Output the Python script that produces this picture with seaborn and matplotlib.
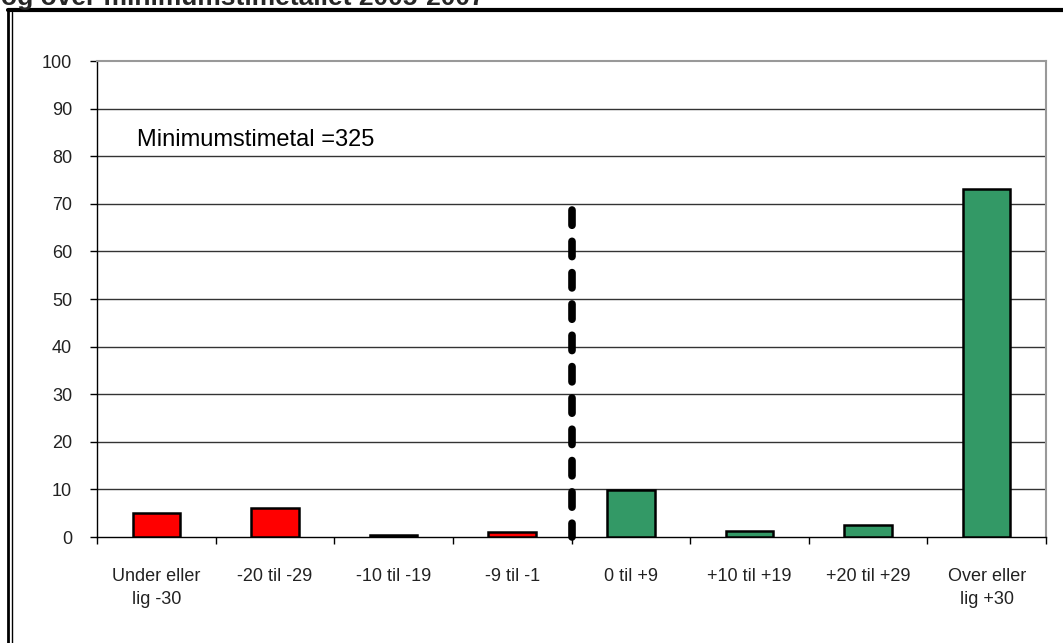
import numpy as np
import pandas as pd
import matplotlib.pyplot as plt
import seaborn as sns
from matplotlib.lines import Line2D

sns.set_theme(style="white")
plt.rcParams['font.family'] = ['Liberation Sans', 'DejaVu Sans']

# =========================
# Data
# =========================
categories = ['Under eller\nlig -30', '-20 til -29', '-10 til -19', '-9 til -1',
              '0 til +9', '+10 til +19', '+20 til +29', 'Over eller\nlig +30']
values = [5.1, 6.1, 0.5, 1.0, 9.8, 1.3, 2.6, 73.2]
groups = ['under', 'under', 'under', 'under', 'over', 'over', 'over', 'over']
palette = {'under': '#ff0000', 'over': '#339966'}
yticks = list(range(0, 101, 10))

df = pd.DataFrame({'kategori': categories, 'andel': values, 'gruppe': groups})

fig = plt.figure(figsize=(10.63, 6.43), dpi=100)
ax = fig.add_axes([97 / 1063, 106 / 643, (1046 - 97) / 1063, (537 - 61) / 643])

sns.barplot(data=df, x='kategori', y='andel', hue='gruppe', palette=palette,
            dodge=False, width=0.4, saturation=1, edgecolor='black',
            linewidth=1.8, legend=False, ax=ax, zorder=3)

ax.set_ylim(0, 100)
ax.set_xlim(-0.5, len(categories) - 0.5)
ax.set_yticks(yticks)
ax.set_xlabel('')
ax.set_ylabel('')

# gridlines
for y in yticks[1:-1]:
    ax.axhline(y, color='#333333', lw=1.0, zorder=1)

# spines
for side in ['top', 'right']:
    ax.spines[side].set_color('#999999')
    ax.spines[side].set_linewidth(1.5)
for side in ['left', 'bottom']:
    ax.spines[side].set_color('black')
    ax.spines[side].set_linewidth(1.0)

# ticks: y-ticks to the left, x-ticks at category boundaries
ax.tick_params(axis='y', direction='out', length=5, width=1, color='black',
               labelsize=13, labelcolor='#222222', left=True, pad=13)
ax.set_xticks(np.arange(len(categories)))
ax.set_xticklabels(categories, fontsize=13, color='#222222', linespacing=1.5)
ax.tick_params(axis='x', length=0, pad=22)
ax.set_xticks(np.arange(-0.5, len(categories), 1), minor=True)
ax.tick_params(axis='x', which='minor', direction='out', length=5, width=1,
               color='black', bottom=True)

# dashed divider
ax.plot([3.5, 3.5], [68.6, 0], color='black', lw=5.5, ls=(0, (2.0, 2.1)),
        dash_capstyle='round', zorder=4, clip_on=False)

ax.text(-0.16, 83.5, 'Minimumstimetal =325', fontsize=17, color='black',
        va='center', ha='left')

# frame and cropped title
fig.add_artist(Line2D([8 / 1063, 1.01], [1 - 10 / 643, 1 - 10 / 643],
                      transform=fig.transFigure, color='black', lw=3))
fig.add_artist(Line2D([8 / 1063, 8 / 1063], [-0.01, 1 - 10 / 643],
                      transform=fig.transFigure, color='black', lw=2))
fig.add_artist(Line2D([12 / 1063, 12 / 1063], [-0.01, 1 - 12 / 643],
                      transform=fig.transFigure, color='black', lw=1))
fig.text(1 / 1063, 1 - 5 / 643, 'og over minimumstimetallet 2005-2007',
         fontsize=19, fontweight='bold', ha='left', va='baseline')

fig.savefig('out.png', dpi=100)
